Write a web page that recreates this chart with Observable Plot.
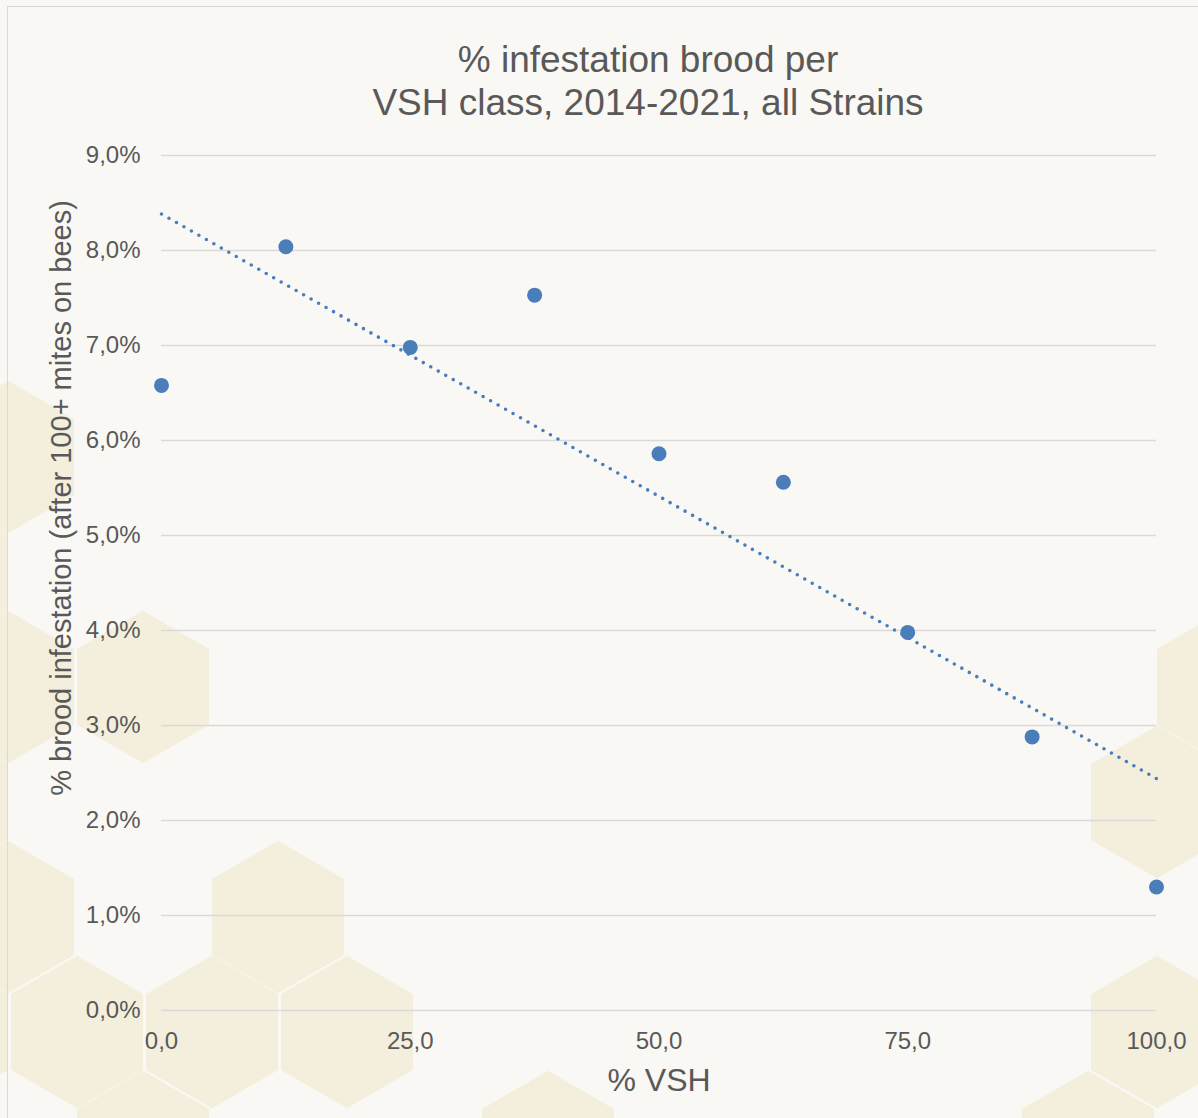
<!DOCTYPE html>
<html>
<head>
<meta charset="utf-8">
<script src="https://cdn.jsdelivr.net/npm/d3@7"></script>
<script src="https://cdn.jsdelivr.net/npm/@observablehq/plot@0.6"></script>
<style>
  html, body { margin: 0; padding: 0; background: #faf8f4; }
  #wrap { position: relative; width: 1198px; height: 1118px; overflow: hidden; background: #faf8f4;
          font-family: "Liberation Sans", Arial, sans-serif; color: #595959; }
  #bg { position: absolute; left: 0; top: 0; }
  #frame { position: absolute; left: 7px; top: 6px; width: 1400px; height: 1400px;
           border: 1.5px solid #d9d9d9; }
  #chart { position: absolute; left: 0; top: 0; width: 1198px; }
  #title { box-sizing: border-box; height: 140px; padding-top: 38px; padding-left: 98px;
           text-align: center; font-size: 37px; line-height: 43px; color: #595959; }
</style>
</head>
<body>
<div id="wrap">
  <svg id="bg" width="1198" height="1118"></svg>
  <div id="frame"></div>
  <div id="chart">
    <div id="title">% infestation brood per<br>VSH class, 2014-2021, all Strains</div>
    <div id="plot"></div>
  </div>
</div>
<script>
// ---- data ----
const vsh = [0, 12.5, 25, 37.5, 50, 62.5, 75, 87.5, 100];
const infestation = [6.58, 8.04, 6.98, 7.53, 5.86, 5.56, 3.98, 2.88, 1.30];
const xTicks = [0, 25, 50, 75, 100];
const yTicks = [0, 1, 2, 3, 4, 5, 6, 7, 8, 9];
const xLabel = "% VSH";
const yLabel = "% brood infestation (after 100+ mites on bees)";

const data = vsh.map((x, i) => ({x, y: infestation[i]}));
const comma = (d, n) => d.toFixed(n).replace(".", ",");

// ---- decorative honeycomb background ----
(function () {
  const svg = d3.select("#bg");
  const rx = 66, ry = rx * 2 / Math.sqrt(3);
  const rowY = k => 1032 - 115 * k;
  const colX = (k, j) => (Math.abs(k) % 2 === 0 ? 77 : 8) + 135 * j;
  const cells = [[0,-1],[0,0],[0,1],[0,2],[0,8],[1,0],[1,2],[2,-1],[2,8],
                 [3,0],[3,1],[3,9],[4,-1],[5,0],[-1,1],[-1,4],[-1,8]];
  const hex = (cx, cy) => {
    const p = [[0,-ry],[rx,-ry/2],[rx,ry/2],[0,ry],[-rx,ry/2],[-rx,-ry/2]];
    return "M" + p.map(([a,b]) => (cx+a) + "," + (cy+b)).join("L") + "Z";
  };
  svg.selectAll("path").data(cells).join("path")
    .attr("d", ([k, j]) => hex(colX(k, j), rowY(k)))
    .attr("fill", "#f4eedc");
})();

// ---- chart ----
const chart = Plot.plot({
  width: 1198,
  height: 978,
  marginLeft: 161,
  marginRight: 42,
  marginTop: 15,
  marginBottom: 108,
  style: { background: "transparent", fontFamily: "'Liberation Sans', Arial, sans-serif",
           fontSize: "24px", color: "#595959" },
  x: { domain: [0, 100] },
  y: { domain: [0, 9] },
  marks: [
    Plot.gridY(yTicks, { stroke: "#d9d9d9", strokeOpacity: 1, strokeWidth: 1.5 }),
    Plot.axisY(yTicks, { tickSize: 0, tickPadding: 21, fontSize: 24, fill: "#595959",
                         tickFormat: d => comma(d, 1) + "%", label: null }),
    Plot.axisX(xTicks, { tickSize: 0, tickPadding: 21, fontSize: 24, fill: "#595959",
                         tickFormat: d => comma(d, 1), label: null }),
    Plot.linearRegressionY(data, { x: "x", y: "y", ci: 0, stroke: "#4a7ebb",
                                   strokeWidth: 3.6, strokeDasharray: "0 8.6",
                                   strokeLinecap: "round" }),
    Plot.dot(data, { x: "x", y: "y", r: 7.5, fill: "#4a7ebb" }),
    Plot.text([yLabel], { frameAnchor: "left", rotate: -90, dx: -100, dy: -85,
                          textAnchor: "middle", lineAnchor: "middle",
                          fontSize: 29, fill: "#595959" }),
    Plot.text([xLabel], { frameAnchor: "bottom", dy: 70, textAnchor: "middle",
                          lineAnchor: "middle", fontSize: 32, fill: "#595959" })
  ]
});
document.getElementById("plot").appendChild(chart);
</script>
</body>
</html>
